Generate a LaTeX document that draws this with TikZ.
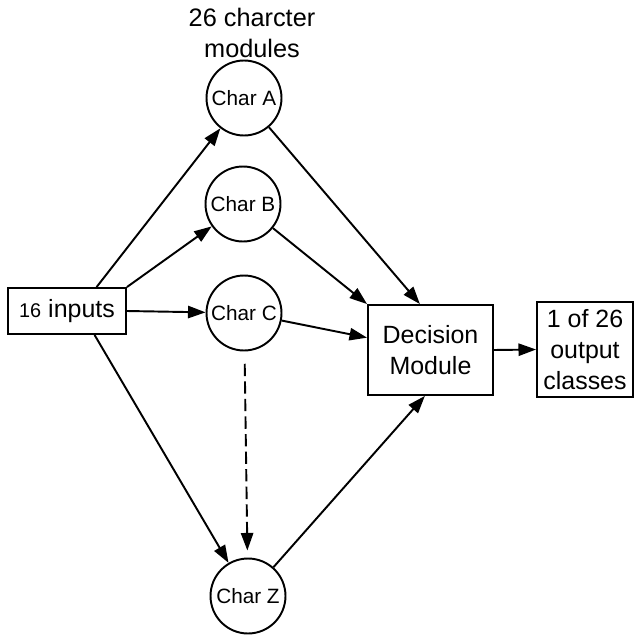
\documentclass[tikz,border=0pt]{standalone}
\usepackage{fontspec}
\setmainfont{Liberation Sans}
\usetikzlibrary{arrows.meta, positioning}

\begin{document}
\begin{tikzpicture}[x=0.02cm, y=-0.02cm, line width=1.1pt,
    every node/.style={font=\fontsize{11.8}{14}\selectfont},
    charnode/.style={draw, circle, minimum size=1.5cm, inner sep=0pt},
    boxnode/.style={draw, rectangle, inner sep=0pt, align=center, font=\fontsize{14.2}{17.5}\selectfont},
    arr/.style={-{Triangle[length=10pt, width=7pt]}}]
				% Fix the page size
				\useasboundingbox (0,0) rectangle (634,635);

				% Draw the title
				\node[align=center, font=\fontsize{14.4}{17.5}\selectfont] (title) at (252, 33) {26 charcter\\modules};

				% Draw the input box
				\node[boxnode, minimum width=2.36cm, minimum height=0.92cm] (in) at (67, 311) {{\fontsize{11.3}{14}\selectfont 16} inputs};

				% Draw the character modules
				\node[charnode] (ca) at (244, 98) {Char A};
				\node[charnode] (cb) at (243, 204) {Char B};
				\node[charnode] (cc) at (244, 313) {Char C};
				\node[charnode] (cz) at (248, 596) {Char Z};

				% Draw the decision and output boxes
				\node[boxnode, minimum width=2.5cm, minimum height=1.8cm] (dm) at (430.5, 350) {Decision\\Module};
				\node[boxnode, minimum width=1.92cm, minimum height=1.9cm] (out) at (585, 349.5) {1 of 26\\output\\classes};

				% Draw the wires from the inputs
				\draw[arr] (in.39) -- (ca);
				\draw[arr] (in.north east) -- (cb);
				\draw[arr] (in.east) -- (cc);
				\draw[arr] (in.-41) -- (cz);

				% Draw the wires into the decision module
				\draw[arr] (ca) -- (dm.103);
				\draw[arr] (cb) -- (dm.north west);
				\draw[arr] (cc) -- (dm.169);
				\draw[arr] (cz) -- (dm.-97);

				% Draw the dashed gap and the output wire
				\draw[arr, dash pattern=on 7pt off 3pt, shorten <=7pt, shorten >=4pt] (cc) -- (cz);
				\draw[arr] (dm.east) -- (out.west);
			\end{tikzpicture}
\end{document}
